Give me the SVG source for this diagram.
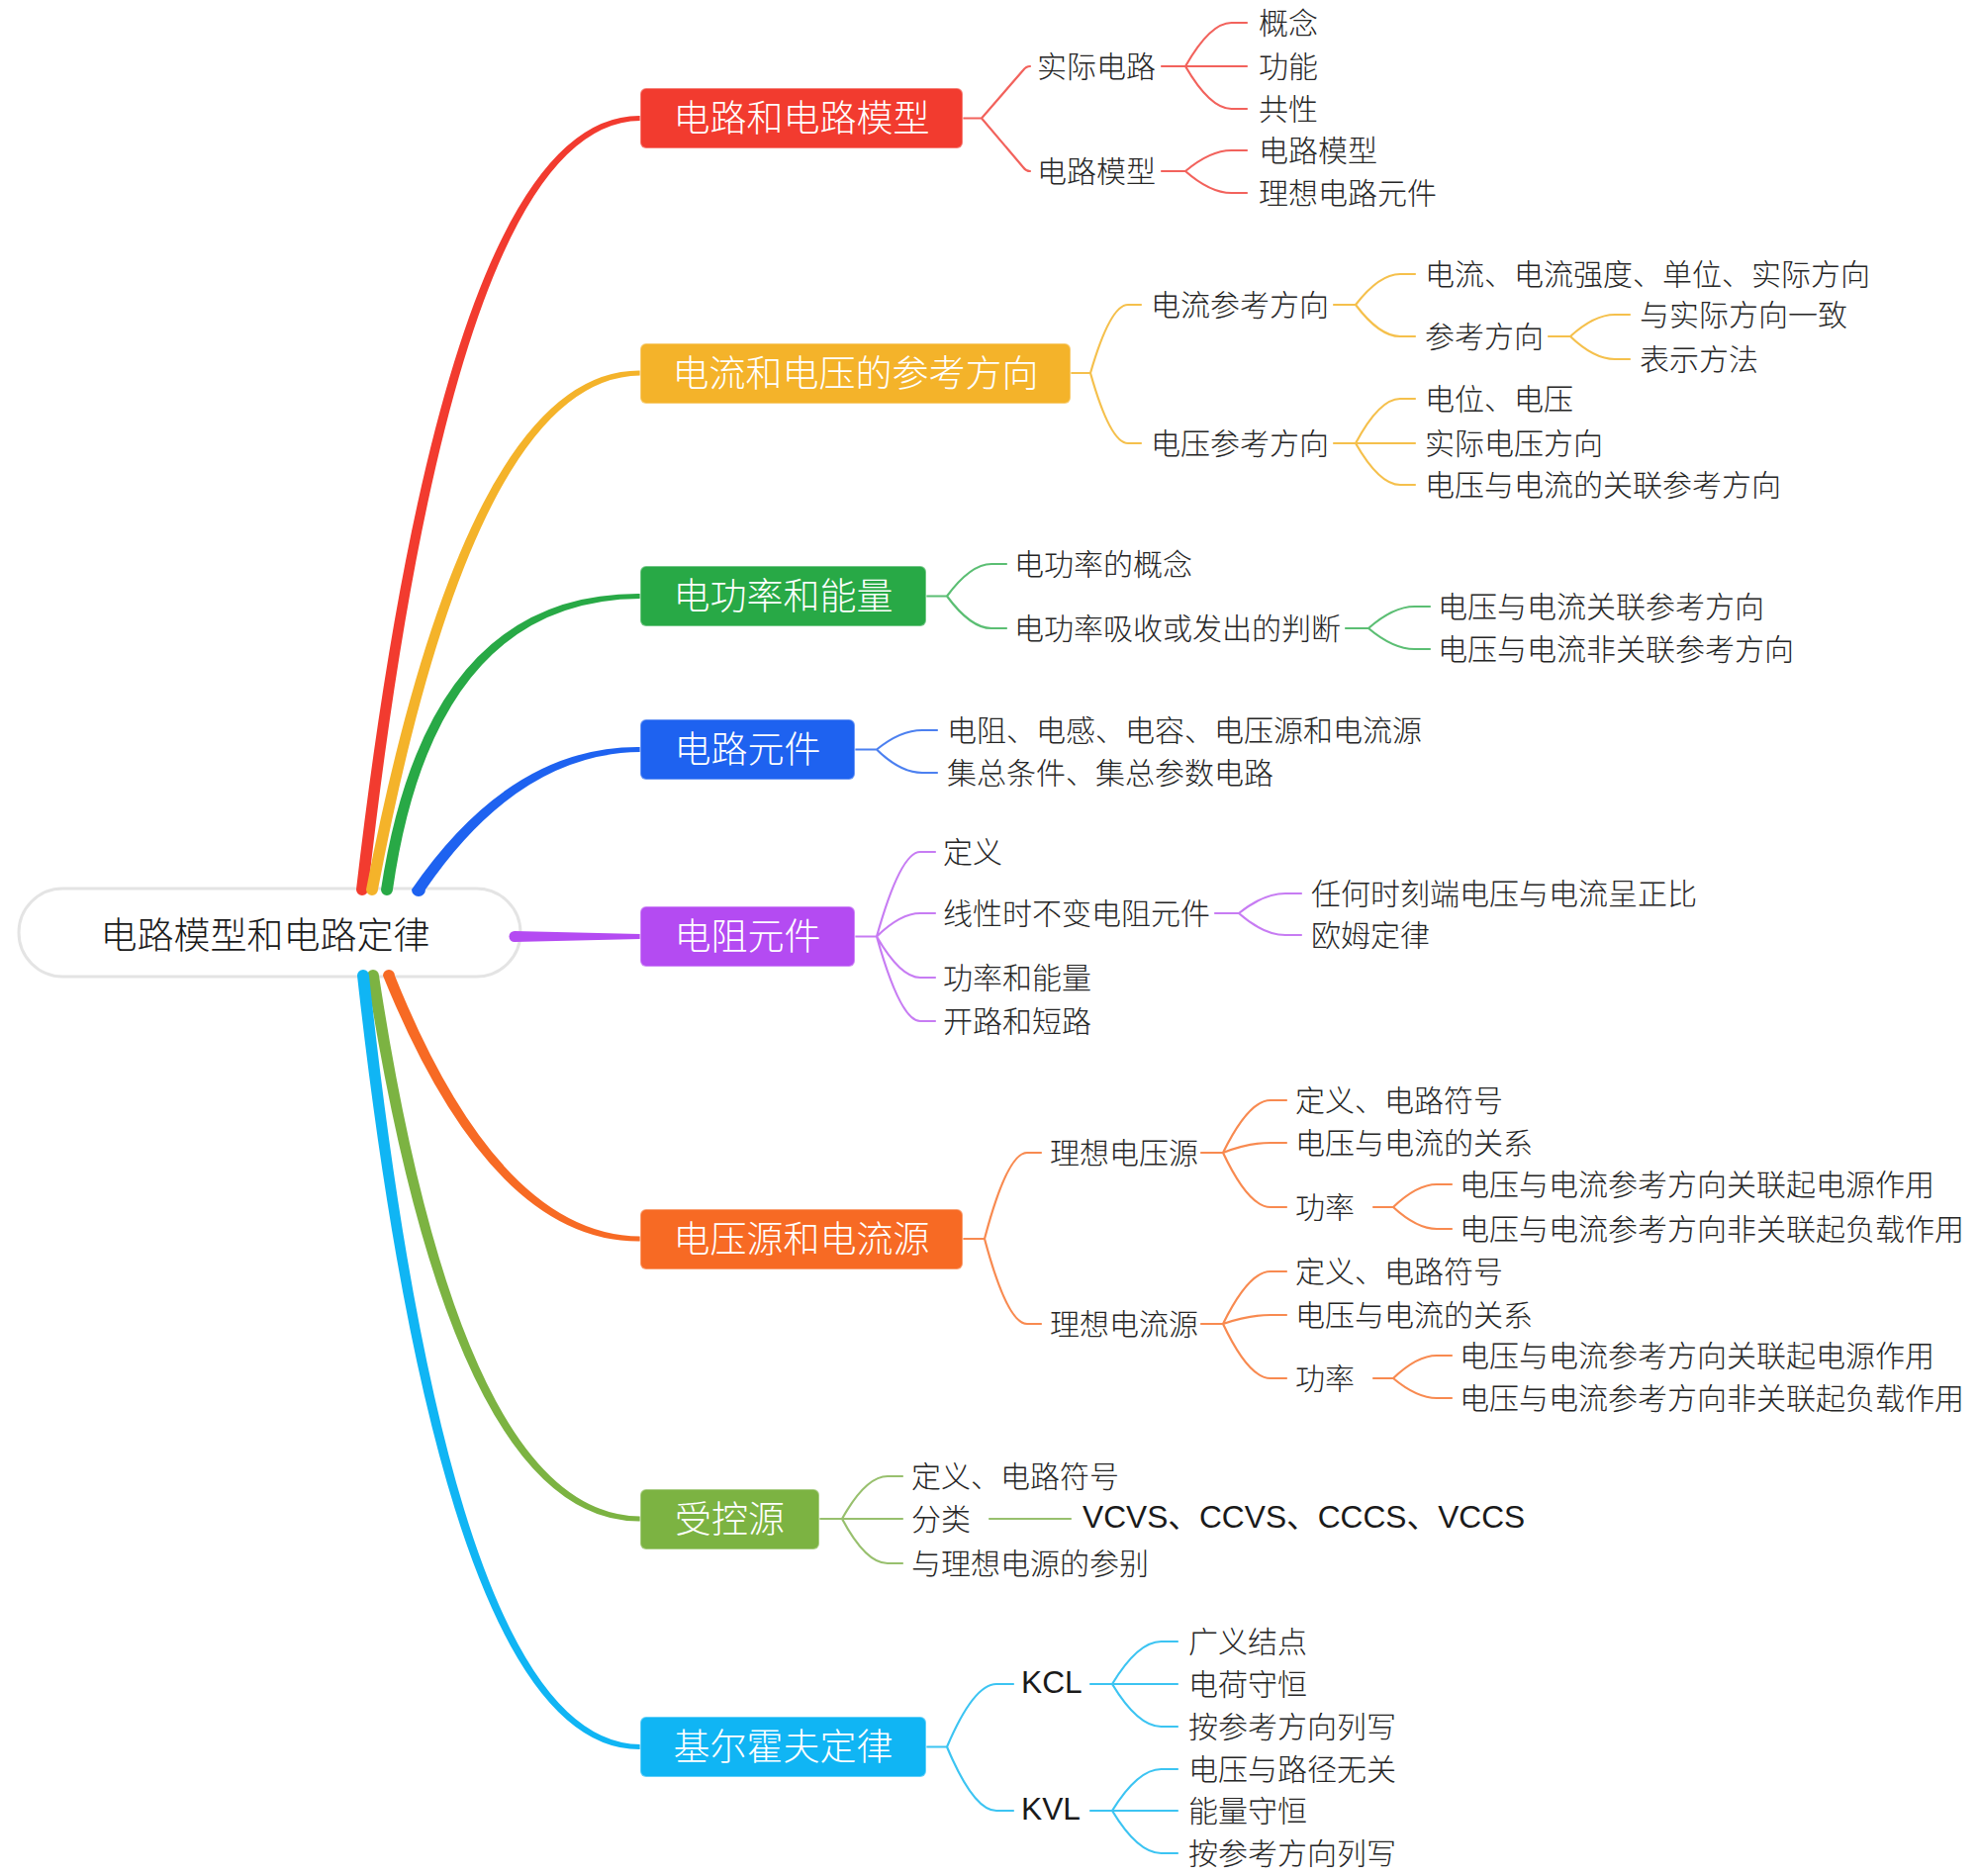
<svg xmlns="http://www.w3.org/2000/svg" width="2000" height="1896" viewBox="0 0 2000 1896">
<style>
.t{font-family:"Noto Sans CJK SC",sans-serif;font-size:30px;font-weight:300;fill:#262626;dominant-baseline:central}
.l{font-family:"Liberation Sans","Noto Sans CJK SC",sans-serif;font-size:31.7px;fill:#1a1a1a;dominant-baseline:central}
.bt{font-family:"Noto Sans CJK SC",sans-serif;font-size:37px;font-weight:300;fill:#ffffff;text-anchor:middle;dominant-baseline:central}
.rt{font-family:"Noto Sans CJK SC",sans-serif;font-size:37px;font-weight:300;fill:#1a1a1a;text-anchor:middle;dominant-baseline:central}
.s{fill:none;stroke-width:2.2;stroke-linecap:round;stroke-linejoin:round}
.box{stroke:#ffffff;stroke-opacity:0.35;stroke-width:2}
.c1{fill:#F23B2F}.c2{fill:#F4B32A}.c3{fill:#28A946}.c4{fill:#1E62F0}.c5{fill:#B44BF2}.c6{fill:#F76A24}.c7{fill:#7CB342}.c8{fill:#10B5F4}
.s1{stroke:#F2625C}.s2{stroke:#F5C04C}.s3{stroke:#5BBE73}.s4{stroke:#4C80F0}.s5{stroke:#C77CF3}.s6{stroke:#F88A50}.s7{stroke:#98C06E}.s8{stroke:#3CC4F2}
</style>
<rect width="2000" height="1896" fill="#ffffff"/>
<g id="node-root">
<rect x="19" y="898" width="507" height="89" rx="44.5" fill="#ffffff" stroke="#e4e4e4" stroke-width="3"/>
<text class="rt" x="268" y="943">电路模型和电路定律</text>
</g>
<g id="connectors">
<path class="c1" d="M360,899 Q451,115.5 647,117 L647,122 Q459,123.5 372,899 A6,6 0 0 1 360,899 Z"/>
<path class="c2" d="M370,899 Q472,373 647,374.5 L647,379.5 Q480,381 382,899 A6,6 0 0 1 370,899 Z"/>
<path class="c3" d="M385,899 Q431,598.5 647,600 L647,605 Q439,606.5 397,899 A6,6 0 0 1 385,899 Z"/>
<path class="c4" d="M416,899 Q516,753.5 647,755 L647,760 Q524,761.5 430,899 A7,7 0 0 1 416,899 Z"/>
<path class="c5" d="M520,941 L647,944 L647,949 L520,952 A5.5,5.5 0 0 1 520,941 Z"/>
<path class="c6" d="M387,986 Q496,1256 647,1254.5 L647,1249.5 Q504,1248 399,986 A6,6 0 0 0 387,986 Z"/>
<path class="c7" d="M371,986 Q458,1539 647,1537.5 L647,1532.5 Q466,1531 383,986 A6,6 0 0 0 371,986 Z"/>
<path class="c8" d="M361,986 Q448,1769.5 647,1768 L647,1763 Q456,1761.5 373,986 A6,6 0 0 0 361,986 Z"/>
<path class="s s1" d="M973,119.5 H992 M992,119.5 L1034,71 Q1037,67 1041,67 M992,119.5 L1034,169 Q1037,173 1041,173"/>
<path class="s s1" d="M1174,67 H1198 M1198,67 Q1223,23 1244.5,23 H1260 M1198,67 H1260 M1198,67 Q1223,110 1244.5,110 H1260"/>
<path class="s s1" d="M1174,173 H1198 M1198,173 Q1223,152 1244.5,152 H1260 M1198,173 Q1223,195 1244.5,195 H1260"/>
<path class="s s2" d="M1082,377 H1102 M1102,377 Q1122,308 1140,308 H1153 M1102,377 Q1122,448 1140,448 H1153"/>
<path class="s s2" d="M1348,308 H1370 M1370,308 Q1394,277 1415,277 H1430 M1370,308 Q1394,340 1415,340 H1430"/>
<path class="s s2" d="M1565,340 H1587 M1587,340 Q1611,318 1632,318 H1647 M1587,340 Q1611,363 1632,363 H1647"/>
<path class="s s2" d="M1348,448 H1370 M1370,448 Q1394,403 1415,403 H1430 M1370,448 H1430 M1370,448 Q1394,490 1415,490 H1430"/>
<path class="s s3" d="M936,602.5 H957 M957,602.5 Q981,570 1002,570 H1017 M957,602.5 Q981,635 1002,635 H1017"/>
<path class="s s3" d="M1360,635 H1383 M1383,635 Q1408,613 1429.5,613 H1445 M1383,635 Q1408,656 1429.5,656 H1445"/>
<path class="s s4" d="M864,757.5 H886 M886,757.5 Q910,738 932,738 H947 M886,757.5 Q910,781 932,781 H947"/>
<path class="s s5" d="M864,946.5 H886 M886,946.5 Q910,861 930,861 H945 M886,946.5 Q910,923 930,923 H945 M886,946.5 Q910,988 930,988 H945 M886,946.5 Q910,1032 930,1032 H945"/>
<path class="s s5" d="M1228,923 H1252 M1252,923 Q1277,903 1299,903 H1315 M1252,923 Q1277,945 1299,945 H1315"/>
<path class="s s6" d="M973,1252 H995 M995,1252 Q1018,1165 1038,1165 H1052 M995,1252 Q1018,1338 1038,1338 H1052"/>
<path class="s s6" d="M1214,1165 H1236 M1236,1165 Q1262,1112 1284,1112 H1300 M1236,1165 Q1262,1155 1284,1155 H1300 M1236,1165 Q1262,1220 1284,1220 H1300"/>
<path class="s s6" d="M1388,1220 H1408 M1408,1220 Q1432,1197 1452,1197 H1467 M1408,1220 Q1432,1242 1452,1242 H1467"/>
<path class="s s6" d="M1214,1338 H1236 M1236,1338 Q1262,1285 1284,1285 H1300 M1236,1338 Q1262,1329 1284,1329 H1300 M1236,1338 Q1262,1393 1284,1393 H1300"/>
<path class="s s6" d="M1388,1393 H1408 M1408,1393 Q1432,1370 1452,1370 H1467 M1408,1393 Q1432,1413 1452,1413 H1467"/>
<path class="s s7" d="M828,1535 H851 M851,1535 Q875,1492 897,1492 H912 M851,1535 H912 M851,1535 Q875,1580 897,1580 H912"/>
<path class="s s7" d="M1000,1535 H1082"/>
<path class="s s8" d="M936,1765.5 H957 M957,1765.5 Q984,1702 1007,1702 H1024 M957,1765.5 Q984,1830 1007,1830 H1024"/>
<path class="s s8" d="M1102,1702 H1124 M1124,1702 Q1150,1659 1173.5,1659 H1190 M1124,1702 H1190 M1124,1702 Q1150,1745 1173.5,1745 H1190"/>
<path class="s s8" d="M1102,1830 H1124 M1124,1830 Q1150,1788 1173.5,1788 H1190 M1124,1830 H1190 M1124,1830 Q1150,1873 1173.5,1873 H1190"/>
</g>
<g id="node-b1"><rect class="box c1" x="647" y="89" width="326" height="61" rx="6"/><text class="bt" x="810" y="117">电路和电路模型</text></g>
<g id="node-b2"><rect class="box c2" x="647" y="347" width="435" height="61" rx="6"/><text class="bt" x="864.5" y="374.5">电流和电压的参考方向</text></g>
<g id="node-b3"><rect class="box c3" x="647" y="572" width="289" height="61" rx="6"/><text class="bt" x="791.5" y="600">电功率和能量</text></g>
<g id="node-b4"><rect class="box c4" x="647" y="727" width="217" height="61" rx="6"/><text class="bt" x="755.5" y="755">电路元件</text></g>
<g id="node-b5"><rect class="box c5" x="647" y="916" width="217" height="61" rx="6"/><text class="bt" x="755.5" y="944">电阻元件</text></g>
<g id="node-b6"><rect class="box c6" x="647" y="1222" width="326" height="61" rx="6"/><text class="bt" x="810" y="1249.5">电压源和电流源</text></g>
<g id="node-b7"><rect class="box c7" x="647" y="1505" width="181" height="61" rx="6"/><text class="bt" x="737.5" y="1532.5">受控源</text></g>
<g id="node-b8"><rect class="box c8" x="647" y="1735" width="289" height="61" rx="6"/><text class="bt" x="791.5" y="1763">基尔霍夫定律</text></g>
<g id="node-b1-1"><text class="t" x="1048" y="64.5">实际电路</text></g>
<g id="node-b1-1-1"><text class="t" x="1272" y="20.5">概念</text></g>
<g id="node-b1-1-2"><text class="t" x="1272" y="64.5">功能</text></g>
<g id="node-b1-1-3"><text class="t" x="1272" y="107.5">共性</text></g>
<g id="node-b1-2"><text class="t" x="1048" y="170.5">电路模型</text></g>
<g id="node-b1-2-1"><text class="t" x="1272" y="149.5">电路模型</text></g>
<g id="node-b1-2-2"><text class="t" x="1272" y="192.5">理想电路元件</text></g>
<g id="node-b2-1"><text class="t" x="1163" y="305.5">电流参考方向</text></g>
<g id="node-b2-1-1"><text class="t" x="1440" y="274.5">电流、电流强度、单位、实际方向</text></g>
<g id="node-b2-1-2"><text class="t" x="1440" y="337.5">参考方向</text></g>
<g id="node-b2-1-2-1"><text class="t" x="1657" y="315.5">与实际方向一致</text></g>
<g id="node-b2-1-2-2"><text class="t" x="1657" y="360.5">表示方法</text></g>
<g id="node-b2-2"><text class="t" x="1163" y="445.5">电压参考方向</text></g>
<g id="node-b2-2-1"><text class="t" x="1440" y="400.5">电位、电压</text></g>
<g id="node-b2-2-2"><text class="t" x="1440" y="445.5">实际电压方向</text></g>
<g id="node-b2-2-3"><text class="t" x="1440" y="487.5">电压与电流的关联参考方向</text></g>
<g id="node-b3-1"><text class="t" x="1025" y="567.5">电功率的概念</text></g>
<g id="node-b3-2"><text class="t" x="1025" y="632.5">电功率吸收或发出的判断</text></g>
<g id="node-b3-2-1"><text class="t" x="1453" y="610.5">电压与电流关联参考方向</text></g>
<g id="node-b3-2-2"><text class="t" x="1453" y="653.5">电压与电流非关联参考方向</text></g>
<g id="node-b4-1"><text class="t" x="957" y="735.5">电阻、电感、电容、电压源和电流源</text></g>
<g id="node-b4-2"><text class="t" x="957" y="778.5">集总条件、集总参数电路</text></g>
<g id="node-b5-1"><text class="t" x="953" y="858.5">定义</text></g>
<g id="node-b5-2"><text class="t" x="953" y="920.5">线性时不变电阻元件</text></g>
<g id="node-b5-2-1"><text class="t" x="1325" y="900.5">任何时刻端电压与电流呈正比</text></g>
<g id="node-b5-2-2"><text class="t" x="1325" y="942.5">欧姆定律</text></g>
<g id="node-b5-3"><text class="t" x="953" y="985.5">功率和能量</text></g>
<g id="node-b5-4"><text class="t" x="953" y="1029.5">开路和短路</text></g>
<g id="node-b6-1"><text class="t" x="1061" y="1162.5">理想电压源</text></g>
<g id="node-b6-1-1"><text class="t" x="1309" y="1109.5">定义、电路符号</text></g>
<g id="node-b6-1-2"><text class="t" x="1309" y="1152.5">电压与电流的关系</text></g>
<g id="node-b6-1-3"><text class="t" x="1309" y="1217.5">功率</text></g>
<g id="node-b6-1-3-1"><text class="t" x="1475" y="1194.5">电压与电流参考方向关联起电源作用</text></g>
<g id="node-b6-1-3-2"><text class="t" x="1475" y="1239.5">电压与电流参考方向非关联起负载作用</text></g>
<g id="node-b6-2"><text class="t" x="1061" y="1335.5">理想电流源</text></g>
<g id="node-b6-2-1"><text class="t" x="1309" y="1282.5">定义、电路符号</text></g>
<g id="node-b6-2-2"><text class="t" x="1309" y="1326.5">电压与电流的关系</text></g>
<g id="node-b6-2-3"><text class="t" x="1309" y="1390.5">功率</text></g>
<g id="node-b6-2-3-1"><text class="t" x="1475" y="1367.5">电压与电流参考方向关联起电源作用</text></g>
<g id="node-b6-2-3-2"><text class="t" x="1475" y="1410.5">电压与电流参考方向非关联起负载作用</text></g>
<g id="node-b7-1"><text class="t" x="921" y="1489.5">定义、电路符号</text></g>
<g id="node-b7-2"><text class="t" x="921" y="1532.5">分类</text></g>
<g id="node-b7-2-1"><text class="l" x="1094" y="1533">VCVS、CCVS、CCCS、VCCS</text></g>
<g id="node-b7-3"><text class="t" x="921" y="1577.5">与理想电源的参别</text></g>
<g id="node-b8-1"><text class="l" x="1032" y="1700">KCL</text></g>
<g id="node-b8-1-1"><text class="t" x="1201" y="1656.5">广义结点</text></g>
<g id="node-b8-1-2"><text class="t" x="1201" y="1699.5">电荷守恒</text></g>
<g id="node-b8-1-3"><text class="t" x="1201" y="1742.5">按参考方向列写</text></g>
<g id="node-b8-2"><text class="l" x="1032" y="1828">KVL</text></g>
<g id="node-b8-2-1"><text class="t" x="1201" y="1785.5">电压与路径无关</text></g>
<g id="node-b8-2-2"><text class="t" x="1201" y="1827.5">能量守恒</text></g>
<g id="node-b8-2-3"><text class="t" x="1201" y="1870.5">按参考方向列写</text></g>
</svg>
